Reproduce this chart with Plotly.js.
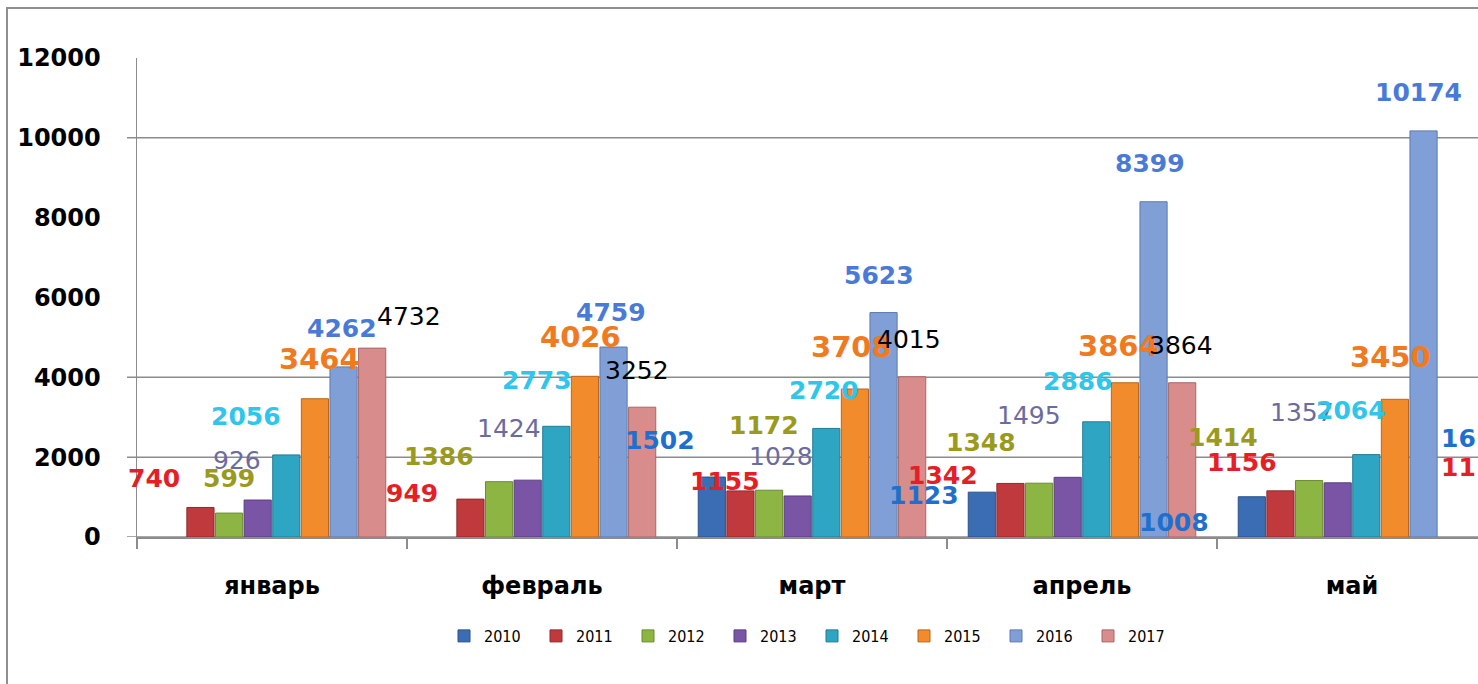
<!DOCTYPE html>
<html>
<head>
<meta charset="utf-8">
<script src="https://cdn.plot.ly/plotly-3.0.1.min.js"></script>
<style>
  html, body { margin: 0; padding: 0; background: #ffffff; }
  #frame { position: absolute; left: 6px; top: 7px; width: 1500px; height: 700px;
           border-left: 2px solid #8f8f8f; border-top: 2px solid #8f8f8f; }
  #chart { position: absolute; left: 0; top: 0; width: 1478px; height: 684px; }
</style>
</head>
<body>
<div id="frame"></div>
<div id="chart"></div>
<script>
// ---- data ----
var months = ['январь', 'февраль', 'март', 'апрель', 'май'];
var years = ['2010', '2011', '2012', '2013', '2014', '2015', '2016', '2017'];
var v2010 = [null, null, 1502, 1123, 1008];
var v2011 = [740, 949, 1155, 1342, 1156];
var v2012 = [599, 1386, 1172, 1348, 1414];
var v2013 = [926, 1424, 1028, 1495, 1357];
var v2014 = [2056, 2773, 2720, 2886, 2064];
var v2015 = [3464, 4026, 3708, 3864, 3450];
var v2016 = [4262, 4759, 5623, 8399, 10174];
var v2017 = [4732, 3252, 4015, 3864, null];
var yTicks = [0, 2000, 4000, 6000, 8000, 10000, 12000];
var gridValues = [0, 2000, 4000, 10000];
var cutLabels = ['16', '11']; // labels of the next (cropped) month

var series = [v2010, v2011, v2012, v2013, v2014, v2015, v2016, v2017];

// ---- styles ----
var barColors = ['#3A6DB3', '#C0393D', '#8DB543', '#7A55A6', '#2EA6C3', '#F28B2C', '#7F9FD6', '#D98C8C'];
var lineColors = ['#2A528A', '#8E2A2D', '#6A8A30', '#5A3E7E', '#217C93', '#B8661E', '#5E7BAE', '#A86666'];
var labelColors = ['#1F6FCF', '#E61E25', '#9A9A1E', '#6B6BA0', '#2EC6EA', '#EF7A1F', '#4A7AD8', '#000000'];
var labelBold = [true, true, true, false, true, true, true, false];
var labelSize = [25, 25, 25, 25, 25, 29, 25, 25];

// label offsets in pixels (dx right, dy down) relative to bar top centre
var labelDX = [
  [0, 0, -52, -58, -78],
  [-46, -58, -15, -67, -38],
  [0, -60, -5, -58, -86],
  [-21, -19, -17, -39, -36],
  [-40, -19, -2, -18, -15],
  [5, -4, -3, -6, -4],
  [-2, -3, -5, -4, -5],
  [37, -5, -3, -1, 0]
];
var labelDY = [
  [0, 0, -37, 3, 26],
  [-29, -6, -9, -8, -28],
  [-35, -25, -65, -41, -43],
  [-40, -52, -39, -62, -70],
  [-38, -46, -38, -40, -44],
  [-40, -39, -42, -37, -42],
  [-38, -35, -37, -38, -38],
  [-32, -37, -37, -37, 0]
];

var bargap = 0.152, bargroupgap = 0.05;
var slot = (1 - bargap) / years.length;

var traces = years.map(function (yr, i) {
  return {
    type: 'bar', name: yr, x: months, y: series[i],
    marker: { color: barColors[i], line: { color: lineColors[i], width: 1 } },
    hoverinfo: 'skip'
  };
});

var annotations = [];
series.forEach(function (vals, i) {
  vals.forEach(function (v, j) {
    if (v === null) return;
    annotations.push({
      xref: 'x', yref: 'y', x: j + (i - (years.length - 1) / 2) * slot, y: v,
      text: labelBold[i] ? '<b>' + v + '</b>' : String(v),
      showarrow: false, xanchor: 'center', yanchor: 'middle',
      xshift: labelDX[i][j], yshift: -labelDY[i][j],
      font: { family: 'DejaVu Sans, Verdana, sans-serif', size: labelSize[i], color: labelColors[i] }
    });
  });
});
annotations.push({ xref: 'paper', yref: 'paper', x: 1, y: (537 - 438) / 479, xanchor: 'right', yanchor: 'middle',
  xshift: 0, text: '<b>' + cutLabels[0] + '</b>', showarrow: false,
  font: { family: 'DejaVu Sans, Verdana, sans-serif', size: 25, color: labelColors[0] } });
annotations.push({ xref: 'paper', yref: 'paper', x: 1, y: (537 - 467) / 479, xanchor: 'right', yanchor: 'middle',
  xshift: 0, text: '<b>' + cutLabels[1] + '</b>', showarrow: false,
  font: { family: 'DejaVu Sans, Verdana, sans-serif', size: 25, color: labelColors[1] } });

var shapes = gridValues.map(function (g) {
  return { type: 'line', xref: 'paper', yref: 'y', x0: -10 / 1341, x1: 1, y0: g, y1: g,
           line: { color: '#8c8c8c', width: 1.5 }, layer: 'below' };
});

var layout = {
  width: 1478, height: 684,
  margin: { l: 137, r: 0, t: 58, b: 147 },
  paper_bgcolor: 'rgba(0,0,0,0)', plot_bgcolor: 'rgba(0,0,0,0)',
  barmode: 'group', bargap: bargap, bargroupgap: bargroupgap,
  showlegend: true,
  legend: {
    orientation: 'h', x: (444 - 137) / 1341, xanchor: 'left', y: (537 - 636) / 479, yanchor: 'middle',
    entrywidth: 47, entrywidthmode: 'pixels', itemwidth: 30,
    font: { family: 'Liberation Sans Narrow, DejaVu Sans Condensed, sans-serif', size: 16, color: '#000' },
    bgcolor: 'rgba(0,0,0,0)'
  },
  xaxis: {
    type: 'category', range: [-0.5, -0.5 + 1341 / 270], autorange: false,
    showline: true, linecolor: '#8c8c8c', linewidth: 1.5,
    showgrid: false, zeroline: false,
    ticks: 'outside', tickson: 'boundaries', ticklen: 10, tickcolor: '#8c8c8c', tickwidth: 1.5,
    ticklabelstandoff: 27,
    tickfont: { family: 'DejaVu Sans, Verdana, sans-serif', size: 24, color: '#000' }
  },
  yaxis: {
    range: [0, 12000], autorange: false,
    tickvals: yTicks, ticktext: yTicks.map(String),
    showline: true, linecolor: '#8c8c8c', linewidth: 1.5,
    showgrid: false, zeroline: false, ticks: '',
    ticklabelstandoff: 30,
    tickfont: { family: 'DejaVu Sans, Verdana, sans-serif', size: 24, color: '#000' }
  },
  annotations: annotations,
  shapes: shapes
};
layout.xaxis.tickfont.weight = 'bold';
layout.yaxis.tickfont.weight = 'bold';

Plotly.newPlot('chart', traces, layout, { staticPlot: true, displayModeBar: false });
</script>
</body>
</html>
